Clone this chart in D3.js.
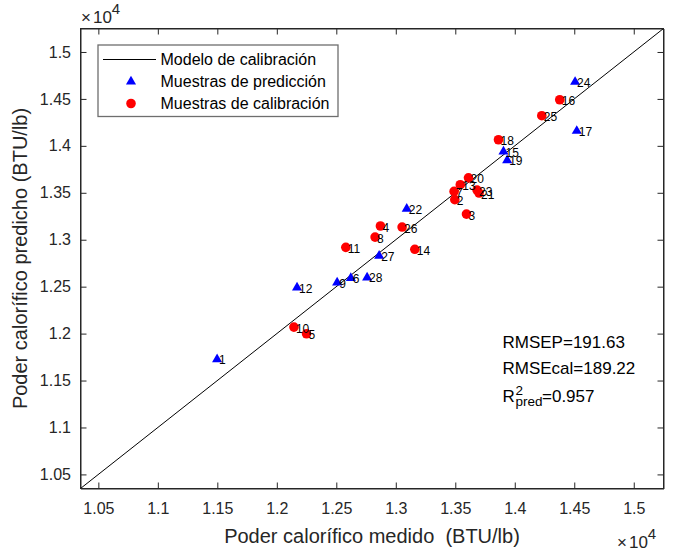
<!DOCTYPE html>
<html><head><meta charset="utf-8">
<script src="https://cdn.jsdelivr.net/npm/d3@7"></script>
<style>
html,body{margin:0;padding:0;background:#fff;}
svg{display:block;font-family:"Liberation Sans",Arial,Helvetica,sans-serif;}
</style></head>
<body>
<svg id="chart" width="678" height="553"></svg>
<script>
// ---- data ----
const predIds = [1, 6, 9, 12, 15, 17, 19, 22, 24, 27, 28];
const predX = [11498, 12622, 12507, 12170, 13905, 14521, 13936, 13092, 14507, 12860, 12759];
const predY = [11732, 12596, 12549, 12496, 13944, 14164, 13852, 13334, 14686, 12834, 12603];

const calIds = [2, 3, 4, 5, 7, 8, 10, 11, 13, 14, 16, 18, 20, 21, 23, 25, 26];
const calX = [13496, 13594, 12871, 12250, 13490, 12826, 12144, 12580, 13542, 13160, 14378, 13863, 13611, 13700, 13683, 14227, 13053];
const calY = [13427, 13273, 13146, 11998, 13515, 13028, 12069, 12919, 13586, 12898, 14491, 14065, 13659, 13497, 13529, 14321, 13135];

const tickVals = [10500, 11000, 11500, 12000, 12500, 13000, 13500, 14000, 14500, 15000];
const axisDomain = [10350, 15250];
const modelLine = [10350, 15250];
const legendLabels = ["Modelo de calibración", "Muestras de predicción", "Muestras de calibración"];
const statsLines = ["RMSEP=191.63", "RMSEcal=189.22"];
const r2Value = "=0.957";
const xTitle = "Poder calorífico medido  (BTU/lb)";
const yTitle = "Poder calorífico predicho (BTU/lb)";

// ---- layout ----
const L = 80.5, R = 663.5, T = 28.5, B = 488.5;
const axisColor = "#262626";
const svg = d3.select("#chart");

const x = d3.scaleLinear().domain(axisDomain).range([L, R]);
const y = d3.scaleLinear().domain(axisDomain).range([B, T]);
const fmt = d => d3.format("")(+(d / 10000).toFixed(2));

// axes
const gx = svg.append("g").attr("transform", `translate(0,${B})`)
  .call(d3.axisBottom(x).tickValues(tickVals).tickFormat(fmt).tickSizeInner(-6).tickSizeOuter(0).tickPadding(14.5));
const gy = svg.append("g").attr("transform", `translate(${L},0)`)
  .call(d3.axisLeft(y).tickValues(tickVals).tickFormat(fmt).tickSizeInner(-6).tickSizeOuter(0).tickPadding(9.5));
const gxt = svg.append("g").attr("transform", `translate(0,${T})`)
  .call(d3.axisTop(x).tickValues(tickVals).tickFormat("").tickSizeInner(-6).tickSizeOuter(0));
const gyr = svg.append("g").attr("transform", `translate(${R},0)`)
  .call(d3.axisRight(y).tickValues(tickVals).tickFormat("").tickSizeInner(-6).tickSizeOuter(0));
[gx, gy, gxt, gyr].forEach(g => {
  g.selectAll("path.domain").attr("stroke", axisColor);
  g.selectAll("line").attr("stroke", axisColor);
  g.selectAll("text").attr("fill", axisColor).style("font-size", "16px")
    .style("font-family", '"Liberation Sans",Arial,sans-serif');
});

// clip
svg.append("clipPath").attr("id", "clip").append("rect")
  .attr("x", L).attr("y", T).attr("width", R - L).attr("height", B - T);
const plot = svg.append("g").attr("clip-path", "url(#clip)");

// model line
plot.append("line")
  .attr("x1", x(modelLine[0])).attr("y1", y(modelLine[0]))
  .attr("x2", x(modelLine[1])).attr("y2", y(modelLine[1]))
  .attr("stroke", "#000").attr("stroke-width", 1);

const tri = d3.symbol().type(d3.symbolTriangle).size(44);
const rad = 4.8;

// prediction triangles
plot.selectAll("path.pred").data(predIds.map((id, i) => ({id, x: predX[i], y: predY[i]})))
  .enter().append("path").attr("class", "pred")
  .attr("d", tri).attr("fill", "#0000ff")
  .attr("transform", d => `translate(${x(d.x)},${y(d.y) + 0.5})`);

// calibration circles
plot.selectAll("circle.cal").data(calIds.map((id, i) => ({id, x: calX[i], y: calY[i]})))
  .enter().append("circle").attr("class", "cal")
  .attr("cx", d => x(d.x)).attr("cy", d => y(d.y)).attr("r", rad).attr("fill", "#ff0000");

// labels
const allPts = predIds.map((id, i) => ({id, x: predX[i], y: predY[i]}))
  .concat(calIds.map((id, i) => ({id, x: calX[i], y: calY[i]})));
svg.append("g").selectAll("text").data(allPts).enter().append("text")
  .attr("x", d => x(d.x) + 2).attr("y", d => y(d.y) + 5.5)
  .style("font-size", "12px").attr("fill", "#000").text(d => d.id);

// box
svg.append("rect").attr("x", L).attr("y", T).attr("width", R - L).attr("height", B - T)
  .attr("fill", "none").attr("stroke", axisColor).attr("stroke-width", 1);

// legend
const lg = svg.append("g");
lg.append("rect").attr("x", 98).attr("y", 45).attr("width", 240).attr("height", 71.5)
  .attr("fill", "#fff").attr("stroke", "#6e6e6e").attr("stroke-width", 1.3);
const rowsY = [59.5, 81.5, 103.5];
lg.append("line").attr("x1", 103).attr("x2", 156).attr("y1", rowsY[0]).attr("y2", rowsY[0])
  .attr("stroke", "#000").attr("stroke-width", 1);
lg.append("path").attr("d", tri).attr("fill", "#0000ff").attr("transform", `translate(131,${rowsY[1]})`);
lg.append("circle").attr("cx", 131).attr("cy", rowsY[2]).attr("r", rad).attr("fill", "#ff0000");
lg.selectAll("text.lt").data(legendLabels).enter().append("text").attr("class", "lt")
  .attr("x", 160.5).attr("y", (d, i) => rowsY[i] + 5.8)
  .style("font-size", "16px").attr("fill", "#000").text(d => d);

// stats text
const st = svg.append("g").attr("fill", "#000");
st.selectAll("text.s").data(statsLines).enter().append("text").attr("class", "s")
  .attr("x", 502.5).attr("y", (d, i) => 348 + i * 25.5).style("font-size", "17px").text(d => d);
const r2 = st.append("text").attr("x", 502.5).attr("y", 401.7).style("font-size", "17px");
r2.append("tspan").text("R");
r2.append("tspan").attr("x", 515.5).attr("y", 395).style("font-size", "13.5px").text("2");
r2.append("tspan").attr("x", 515.5).attr("y", 405.5).style("font-size", "13.5px").text("pred");
r2.append("tspan").attr("x", 542).attr("y", 401.7).style("font-size", "17px").text(r2Value);

// exponent labels
function expLabel(xp, yp) {
  const t = svg.append("text").attr("x", xp).attr("y", yp).attr("fill", axisColor).style("font-size", "17px");
  t.append("tspan").text("×");
  t.append("tspan").attr("dx", 2).text("10");
  t.append("tspan").attr("dy", -9).style("font-size", "15px").text("4");
}
expLabel(81, 23);
expLabel(617, 548);

// axis titles
svg.append("text").attr("x", (L + R) / 2).attr("y", 543).attr("text-anchor", "middle")
  .style("font-size", "20px").attr("fill", axisColor).style("white-space", "pre").text(xTitle);
svg.append("text").attr("transform", `translate(27,${(T + B) / 2}) rotate(-90)`).attr("text-anchor", "middle")
  .style("font-size", "20px").attr("fill", axisColor).text(yTitle);
</script>
</body></html>
